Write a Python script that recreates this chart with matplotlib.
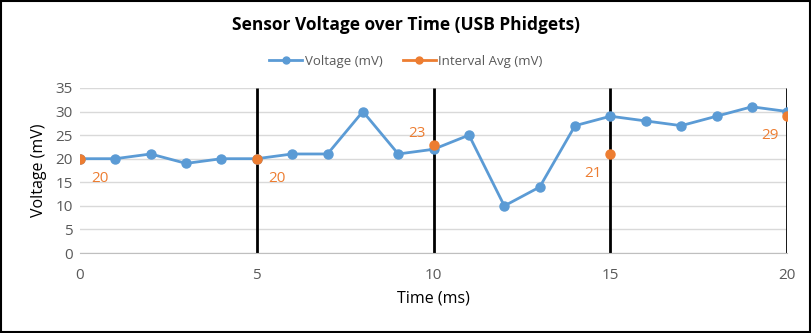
import matplotlib
matplotlib.use("Agg")
import matplotlib.pyplot as plt
from matplotlib.lines import Line2D
from matplotlib.patches import Rectangle

time_ms = list(range(21))
voltage = [20, 20, 21, 19, 20, 20, 21, 21, 30, 21, 22, 25, 10, 14, 27, 29, 28, 27, 29, 31, 30]
avg_time = [0, 5, 10, 15, 20]
avg_vals = [20, 20, 23, 21, 29]
avg_labels = ["20", "20", "23", "21", "29"]
label_offsets = [(8, -14), (8, -14), (-6, 8), (-6, -14), (-6, -14)]
label_ha = ["left", "left", "right", "right", "right"]

BLUE = "#5B9BD5"
ORANGE = "#ED7D31"
plt.rcParams['font.family'] = ['Open Sans', 'DejaVu Sans']

fig = plt.figure(figsize=(8.12, 3.33), dpi=100)
ax = fig.add_axes([0.0985, 0.240, 0.871, 0.496])

ax.vlines(avg_time[1:], 0, 35, colors="black", linewidth=2, zorder=2)
ax.plot(time_ms, voltage, color=BLUE, linewidth=2, marker="o", markersize=6.5, zorder=3)
ax.plot(avg_time, avg_vals, linestyle="none", color=ORANGE, marker="o", markersize=6.5, zorder=4)
for x, y, t, off, ha in zip(avg_time, avg_vals, avg_labels, label_offsets, label_ha):
    ax.annotate(t, (x, y), xytext=off, textcoords="offset points", ha=ha, va="center",
                color=ORANGE, fontsize=11)

ax.set_xlim(0, 20)
ax.set_ylim(0, 35)
ax.set_xticks([0, 5, 10, 15, 20])
ax.set_yticks(range(0, 36, 5))
ax.grid(axis="y", color="#d9d9d9", linewidth=1)
ax.set_axisbelow(True)
for s in ["top", "right", "left"]:
    ax.spines[s].set_visible(False)
ax.spines["bottom"].set_color("#bfbfbf")
ax.tick_params(axis="both", length=0, labelsize=11, colors="#595959")
ax.tick_params(axis="x", pad=11)
ax.tick_params(axis="y", pad=5)
ax.set_xlabel("Time (ms)", fontsize=11.5, color="black", labelpad=5)
ax.set_ylabel("Voltage (mV)", fontsize=11.5, color="black", labelpad=6)

fig.text(0.5, 0.925, "Sensor Voltage over Time (USB Phidgets)", ha="center", va="center",
         fontsize=12.5, fontweight="bold")

handles = [Line2D([0], [0], color=BLUE, lw=2, marker="o", markersize=5),
           Line2D([0], [0], color=ORANGE, lw=2, marker="o", markersize=5)]
fig.legend(handles, ["Voltage (mV)", "Interval Avg (mV)"], loc="center",
           bbox_to_anchor=(0.5, 0.815), ncol=2, frameon=False, fontsize=9.5,
           handlelength=2.5, handletextpad=0.2, columnspacing=1.5, labelcolor="#595959")

fig.patches.append(Rectangle((0.001, 0.002), 0.997, 0.995, transform=fig.transFigure,
                             fill=False, edgecolor="black", linewidth=1.5))

fig.savefig("out.png", dpi=100)
